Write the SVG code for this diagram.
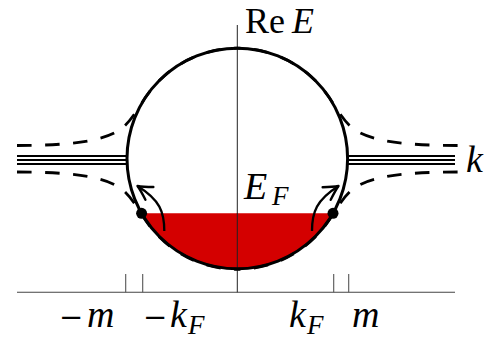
<svg xmlns="http://www.w3.org/2000/svg" xmlns:xlink="http://www.w3.org/1999/xlink" width="487" height="340" viewBox="0 0 487 340">
<style>
.axis{stroke:#444;stroke-width:1.1;fill:none}
.vax{stroke:#222;stroke-width:1;fill:none}
.tick{stroke:#555;stroke-width:1.1;fill:none}
.band{stroke:#000;stroke-width:3;fill:none}
.dash{stroke:#000;stroke-width:2.8;fill:none;stroke-dasharray:14.5 13.5}
.tri{stroke:#000;stroke-width:2;fill:none}
.arr{stroke:#000;stroke-width:2.3;fill:none}
.sea{fill:#d40000;stroke:none}
.dot{fill:#000}
text{font-family:"Liberation Serif","Times New Roman",serif;font-size:38px;fill:#000}
.it{font-style:italic}
.sub{font-style:italic;font-size:27px}
.mn{font-family:"DejaVu Serif",serif;font-size:29px;font-style:normal}
</style>
<defs>
<marker id="ah" markerUnits="userSpaceOnUse" viewBox="-17 -10 19 20" refX="0" refY="0" markerWidth="19" markerHeight="20" orient="auto">
<path d="M -14 -7.5 Q -5 -2 0 0 Q -5 2 -14 7.5" fill="none" stroke="#000" stroke-width="2.4" stroke-linecap="round" stroke-linejoin="round"/>
</marker>
<path id="dul" d="M 17 145.5 C 65 145.5, 100 142, 118 131 C 130 124, 138 108, 147.1 95 A 110.3 110.3 0 0 1 237.3 48.2"/>
</defs>

<g id="axes">
<line class="axis" x1="17" y1="292.3" x2="455" y2="292.3"/>
<line class="vax" x1="237.3" y1="25" x2="237.3" y2="292.3"/>
<line class="tick" x1="125.7" y1="274" x2="125.7" y2="292.3"/>
<line class="tick" x1="142.7" y1="274" x2="142.7" y2="292.3"/>
<line class="tick" x1="333.7" y1="274" x2="333.7" y2="292.3"/>
<line class="tick" x1="348.7" y1="274" x2="348.7" y2="292.3"/>
</g>

<g id="fermi-sea">
<path class="sea" d="M 141.6 213.3 L 333 213.3 A 110.3 110.3 0 0 1 141.6 213.3 Z"/>
</g>
<line class="vax" x1="237.3" y1="213" x2="237.3" y2="270"/>

<g id="circle">
<circle class="band" cx="237.3" cy="158.5" r="110.3"/>
</g>

<g id="connectors">
<line class="tri" x1="17" y1="156" x2="127.3" y2="156"/>
<line class="tri" x1="17" y1="160" x2="127" y2="160"/>
<line class="tri" x1="17" y1="164" x2="127.2" y2="164"/>
<line class="tri" x1="347.3" y1="156" x2="455" y2="156"/>
<line class="tri" x1="347.6" y1="160" x2="455" y2="160"/>
<line class="tri" x1="347.4" y1="164" x2="455" y2="164"/>
<use xlink:href="#dul" class="dash"/>
<use xlink:href="#dul" class="dash" transform="matrix(1 0 0 -1 0 317.5)"/>
<use xlink:href="#dul" class="dash" transform="matrix(-1 0 0 1 474.6 0)"/>
<use xlink:href="#dul" class="dash" transform="matrix(-1 0 0 -1 474.6 317.5)"/>
<path class="arr" d="M 164.3 231 C 164.3 212, 160 200, 137.5 186" marker-end="url(#ah)"/>
<path class="arr" d="M 312 231 C 312 212, 316.5 200, 338.5 186" marker-end="url(#ah)"/>
</g>

<g id="dots">
<circle class="dot" cx="141.6" cy="213.3" r="5.5"/>
<circle class="dot" cx="333" cy="213.3" r="5.5"/>
</g>

<g id="labels">
<text x="245" y="33" style="font-size:36px">Re<tspan class="it" x="292">E</tspan></text>
<text class="it" x="244" y="199">E<tspan class="sub" x="272" y="205">F</tspan></text>
<text class="it" x="466" y="172">k</text>
<text x="59" y="327"><tspan class="mn">−</tspan><tspan class="it" x="87">m</tspan></text>
<text x="143" y="327"><tspan class="mn">−</tspan><tspan class="it" x="170">k</tspan><tspan class="sub" x="188" y="334">F</tspan></text>
<text class="it" x="289" y="327">k<tspan class="sub" x="307" y="334">F</tspan></text>
<text class="it" x="352" y="327">m</text>
</g>
</svg>
